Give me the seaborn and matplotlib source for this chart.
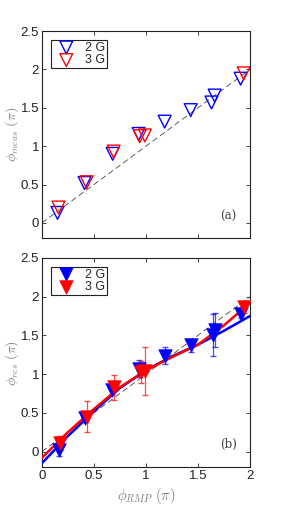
import numpy as np
import matplotlib
matplotlib.use('Agg')
import matplotlib.pyplot as plt
import seaborn as sns

sns.set_style('ticks')
plt.rcParams['font.family'] = ['Liberation Sans', 'DejaVu Sans']
plt.rcParams['mathtext.fontset'] = 'cm'

# panel (a): measured phase
meas2_x = [0.15, 0.41, 0.68, 0.93, 1.18, 1.43, 1.63, 1.66, 1.91]
meas2_y = [0.13, 0.52, 0.90, 1.16, 1.32, 1.47, 1.57, 1.66, 1.88]
meas3_x = [0.16, 0.43, 0.69, 0.94, 0.99, 1.94]
meas3_y = [0.20, 0.53, 0.93, 1.13, 1.14, 1.95]

# panel (b): resonant phase with error bars
res2_x = [0.16, 0.41, 0.67, 0.93, 1.18, 1.43, 1.64, 1.66, 1.91]
res2_y = [0.02, 0.43, 0.80, 1.07, 1.24, 1.37, 1.50, 1.57, 1.78]
res2_e = [0.08, 0.05, 0.06, 0.11, 0.11, 0.08, 0.27, 0.22, 0.05]
res3_x = [0.17, 0.43, 0.69, 0.95, 0.99, 1.94]
res3_y = [0.11, 0.45, 0.83, 1.03, 1.04, 1.87]
res3_e = [0.09, 0.20, 0.16, 0.14, 0.31, 0.08]

# fit curves
fit_x = [0, 0.25, 0.5, 0.75, 1.0, 1.25, 1.5, 1.75, 2.0]
fit2_y = [-0.15, 0.20, 0.52, 0.82, 1.05, 1.23, 1.38, 1.56, 1.75]
fit3_y = [-0.08, 0.25, 0.55, 0.83, 1.05, 1.22, 1.38, 1.63, 1.92]

blue = '#0000ff'
red = '#ff0000'
gray = '#808080'

fig = plt.figure(figsize=(2.87, 5.19), dpi=100)
ax1 = fig.add_axes([0.146, 0.541, 0.725, 0.399])
ax2 = fig.add_axes([0.146, 0.100, 0.725, 0.403])

# --- (a)
ax1.plot([0, 2], [0, 2], ls=(0, (7, 4)), color='#444444', lw=0.6, zorder=1)
sns.scatterplot(x=meas2_x, y=meas2_y, ax=ax1, marker='v', s=85,
                facecolor='none', edgecolor=blue, linewidth=1.0, label='2 G', zorder=3)
sns.scatterplot(x=meas3_x, y=meas3_y, ax=ax1, marker='v', s=85,
                facecolor='none', edgecolor=red, linewidth=1.0, label='3 G', zorder=3)
ax1.set_ylabel(r'$\phi_{meas}\ (\pi)$', color=gray, fontsize=10, labelpad=0)
ax1.set_xticklabels([])
ax1.text(0.895, 0.09, '(a)', transform=ax1.transAxes, family='DejaVu Serif',
         fontsize=8.5, color='#444444', ha='center')

# --- (b)
ax2.plot([0, 2], [0, 2], ls=(0, (7, 4)), color='#444444', lw=0.6, zorder=1)
ax2.errorbar(res2_x, res2_y, yerr=res2_e, fmt='none', ecolor=blue, elinewidth=0.9,
             capsize=2, alpha=0.7, zorder=2)
ax2.errorbar(res3_x, res3_y, yerr=res3_e, fmt='none', ecolor=red, elinewidth=0.9,
             capsize=2, alpha=0.7, zorder=2)
sns.lineplot(x=fit_x, y=fit2_y, ax=ax2, color=blue, lw=1.8, zorder=3)
sns.lineplot(x=fit_x, y=fit3_y, ax=ax2, color=red, lw=1.8, zorder=4)
sns.scatterplot(x=res2_x, y=res2_y, ax=ax2, marker='v', s=95, color=blue,
                edgecolor=blue, linewidth=0.5, label='2 G', zorder=5)
sns.scatterplot(x=res3_x, y=res3_y, ax=ax2, marker='v', s=95, color=red,
                edgecolor=red, linewidth=0.5, label='3 G', zorder=6)
ax2.set_ylabel(r'$\phi_{res}\ (\pi)$', color=gray, fontsize=10, labelpad=0)
ax2.set_xlabel(r'$\phi_{RMP}\ (\pi)$', color=gray, fontsize=10.5, labelpad=3)
ax2.text(0.895, 0.09, '(b)', transform=ax2.transAxes, family='DejaVu Serif',
         fontsize=8.5, color='#444444', ha='center')

for ax in (ax1, ax2):
    ax.set_xlim(0, 2)
    ax.set_ylim(-0.2, 2.5)
    ax.set_xticks([0, 0.5, 1, 1.5, 2])
    ax.set_yticks([0, 0.5, 1, 1.5, 2, 2.5])
    ax.set_yticklabels(['0', '0.5', '1', '1.5', '2', '2.5'])
    ax.tick_params(direction='in', top=True, right=True, length=3, width=0.6,
                   labelsize=9.5, pad=2, colors='#222222')
    for sp in ax.spines.values():
        sp.set_linewidth(0.8)
        sp.set_color('#222222')
    leg = ax.legend(loc='upper left', fontsize=9, frameon=True, fancybox=False,
                    borderpad=0.15, handletextpad=0.4, labelspacing=0.05,
                    handlelength=2.2, borderaxespad=0.7, framealpha=1)
    leg.get_frame().set_edgecolor('#222222')
    leg.get_frame().set_linewidth(0.8)
ax2.set_xticklabels(['0', '0.5', '1', '1.5', '2'])

fig.savefig('out.png', dpi=100)
